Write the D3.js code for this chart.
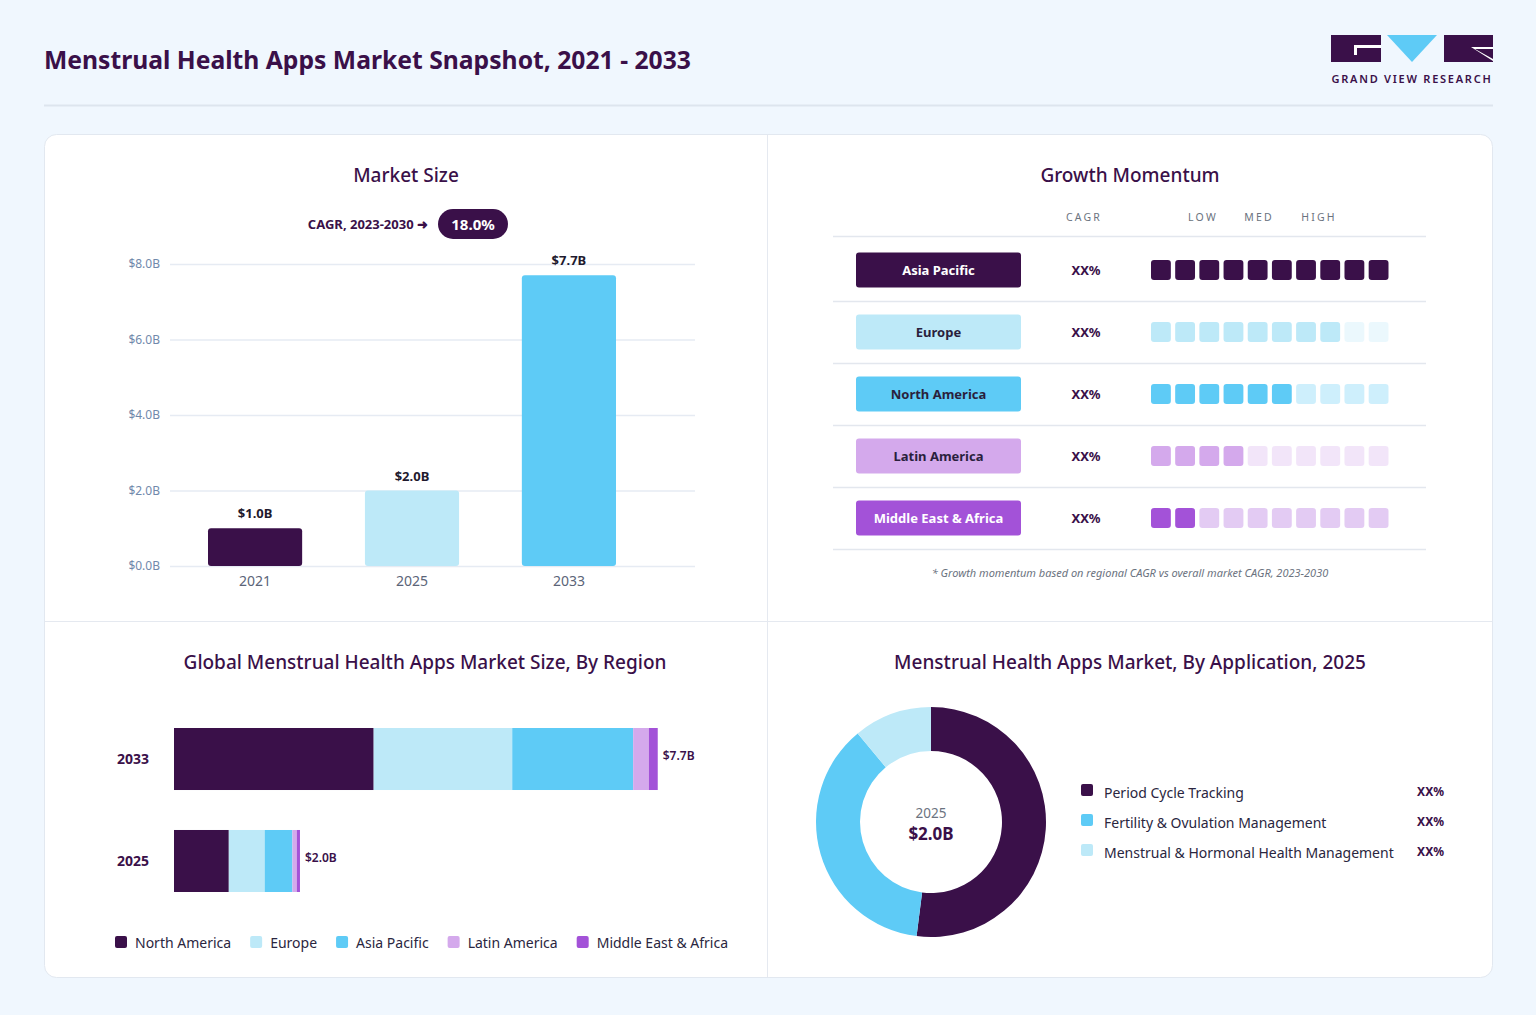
<!DOCTYPE html>
<html>
<head>
<meta charset="utf-8">
<script src="https://cdn.jsdelivr.net/npm/d3@7"></script>
<style>
  body { margin: 0; background: #f0f7fe; font-family: "Noto Sans", "Open Sans", sans-serif; }
  svg { display: block; }
</style>
</head>
<body>
<svg width="1536" height="1015"></svg>
<script>
const years = ['2021', '2025', '2033'];
const marketSize = [1.0, 2.0, 7.7];
const marketTicks = [0, 2, 4, 6, 8];

const regions = ['North America', 'Europe', 'Asia Pacific', 'Latin America', 'Middle East & Africa'];
const regionYears = ['2033', '2025'];
const regionValues2033 = [3.17, 2.2, 1.92, 0.25, 0.14];
const regionValues2025 = [0.87, 0.57, 0.44, 0.07, 0.05];
const regionTotals = ['$7.7B', '$2.0B'];

const momentumRegions = ['Asia Pacific', 'Europe', 'North America', 'Latin America', 'Middle East & Africa'];
const momentumScores = [10, 8, 6, 4, 2];
const momentumCagr = ['XX%', 'XX%', 'XX%', 'XX%', 'XX%'];

const applications = ['Period Cycle Tracking', 'Fertility & Ovulation Management', 'Menstrual & Hormonal Health Management'];
const applicationShares = [52, 37, 11];
const applicationLabels = ['XX%', 'XX%', 'XX%'];

const dark = '#3a1049';
const palette = [dark, '#bde9f8', '#5ecbf6', '#d4a9ec', '#a352d8'];
const regionColor = d3.scaleOrdinal().domain(regions).range(palette);
const momentumColor = d3.scaleOrdinal().domain(momentumRegions).range(palette);
const appColor = d3.scaleOrdinal().domain(applications).range([dark, '#5ecbf6', '#bde9f8']);
const lightBg = ['Europe', 'North America', 'Latin America'];

const svg = d3.select('svg');

// header
svg.append('text').attr('x', 44).attr('y', 69)
  .style('font-size', '24.7px').style('font-weight', 700).style('fill', dark)
  .text('Menstrual Health Apps Market Snapshot, 2021 - 2033');
svg.append('line').attr('x1', 44).attr('x2', 1493).attr('y1', 105.5).attr('y2', 105.5)
  .style('stroke', '#dde5ee').style('stroke-width', 2);

// logo
const logo = svg.append('g');
logo.append('rect').attr('x', 1331).attr('y', 35).attr('width', 50).attr('height', 27).style('fill', dark);
logo.append('path').attr('d', 'M1381,45L1354,45L1354,55L1357,55L1357,48L1381,48Z').style('fill', '#fff');
logo.append('path').attr('d', 'M1387,35L1437,35L1412,62Z').style('fill', '#5ecbf6');
logo.append('rect').attr('x', 1444).attr('y', 35).attr('width', 49).attr('height', 27).style('fill', dark);
logo.append('path').attr('d', 'M1493,59L1475,49L1493,49L1493,47L1471,47L1493,61Z').style('fill', '#fff');
logo.append('text').attr('x', 1412).attr('y', 83).attr('text-anchor', 'middle')
  .style('font-size', '11px').style('font-weight', 600).style('letter-spacing', '1.75px').style('fill', dark)
  .text('GRAND VIEW RESEARCH');

// card
svg.append('rect').attr('x', 44.5).attr('y', 134.5).attr('width', 1448).attr('height', 843).attr('rx', 12)
  .style('fill', '#fff').style('stroke', '#e2e8f0');
svg.append('line').attr('x1', 767.5).attr('x2', 767.5).attr('y1', 135).attr('y2', 977).style('stroke', '#e5e9f0');
svg.append('line').attr('x1', 45).attr('x2', 1492).attr('y1', 621.5).attr('y2', 621.5).style('stroke', '#e5e9f0');

function panelTitle(x, y, t) {
  svg.append('text').attr('x', x).attr('y', y).attr('text-anchor', 'middle')
    .style('font-size', '19px').style('font-weight', 500).style('fill', dark).text(t);
}

// ---- Market size
panelTitle(406, 182, 'Market Size');
svg.append('text').attr('x', 428).attr('y', 229).attr('text-anchor', 'end')
  .style('font-size', '13px').style('font-weight', 700).style('fill', dark).text('CAGR, 2023-2030 ➜');
svg.append('rect').attr('x', 438).attr('y', 209).attr('width', 70).attr('height', 30).attr('rx', 15).style('fill', dark);
svg.append('text').attr('x', 473).attr('y', 230).attr('text-anchor', 'middle')
  .style('font-size', '15px').style('font-weight', 700).style('fill', '#fff').text('18.0%');

const y = d3.scaleLinear().domain([0, 8]).range([566, 264]);
const x = d3.scaleBand().domain(years).range([208, 616]).paddingInner(0.4).paddingOuter(0);

const grid = svg.append('g');
grid.selectAll('line').data(marketTicks).enter().append('line')
  .attr('x1', 170).attr('x2', 695).attr('y1', d => y(d) + 0.5).attr('y2', d => y(d) + 0.5)
  .style('stroke', '#e6ebf3').style('stroke-width', 1.5);
grid.selectAll('text').data(marketTicks).enter().append('text')
  .attr('x', 160).attr('y', d => y(d) + 4).attr('text-anchor', 'end')
  .style('font-size', '12px').style('fill', '#7089ab').text(d => `$${d.toFixed(1)}B`);

const barColors = [dark, '#bde9f8', '#5ecbf6'];
svg.selectAll('rect.msbar').data(marketSize).enter().append('rect').attr('class', 'msbar')
  .attr('x', (d, i) => x(years[i])).attr('width', x.bandwidth())
  .attr('y', d => y(d)).attr('height', d => y(0) - y(d)).attr('rx', 3)
  .style('fill', (d, i) => barColors[i]);
svg.selectAll('text.msval').data(marketSize).enter().append('text').attr('class', 'msval')
  .attr('x', (d, i) => x(years[i]) + x.bandwidth() / 2).attr('y', d => y(d) - 10).attr('text-anchor', 'middle')
  .style('font-size', '13px').style('font-weight', 700).style('fill', '#1f1a2e').text(d => `$${d.toFixed(1)}B`);
svg.selectAll('text.msyear').data(years).enter().append('text').attr('class', 'msyear')
  .attr('x', d => x(d) + x.bandwidth() / 2).attr('y', 586).attr('text-anchor', 'middle')
  .style('font-size', '14px').style('fill', '#5b6478').text(d => d);

// ---- Growth momentum
panelTitle(1130, 182, 'Growth Momentum');
const hdr = [['CAGR', 1084], ['LOW', 1203], ['MED', 1259], ['HIGH', 1319]];
svg.selectAll('text.hdr').data(hdr).enter().append('text').attr('class', 'hdr')
  .attr('x', d => d[1]).attr('y', 221).attr('text-anchor', 'middle')
  .style('font-size', '10.5px').style('letter-spacing', '2.2px').style('fill', '#6b7380').text(d => d[0]);

const rowY = d3.scalePoint().domain(momentumRegions).range([270, 518]);
const seps = [236].concat(momentumRegions.map(r => rowY(r) + 31));
svg.selectAll('line.sep').data(seps).enter().append('line').attr('class', 'sep')
  .attr('x1', 833).attr('x2', 1426).attr('y1', d => d + 0.5).attr('y2', d => d + 0.5)
  .style('stroke', '#e3e7ee').style('stroke-width', 1.5);

const rows = svg.selectAll('g.mrow').data(momentumRegions).enter().append('g').attr('class', 'mrow')
  .attr('transform', d => `translate(0,${rowY(d)})`);
rows.append('rect').attr('x', 856).attr('y', -17.5).attr('width', 165).attr('height', 35).attr('rx', 3)
  .style('fill', d => momentumColor(d));
rows.append('text').attr('x', 938.5).attr('y', 5).attr('text-anchor', 'middle')
  .style('font-size', '13px').style('font-weight', 700)
  .style('fill', d => lightBg.includes(d) ? '#2a1f3d' : '#fff').text(d => d);
rows.append('text').attr('x', 1086).attr('y', 5).attr('text-anchor', 'middle')
  .style('font-size', '13px').style('font-weight', 700).style('fill', dark).text((d, i) => momentumCagr[i]);

const sq = d3.scaleBand().domain(d3.range(10)).range([1151, 1388.5]).paddingInner(0.18);
rows.each(function (r, ri) {
  d3.select(this).selectAll('rect.sq').data(d3.range(10)).enter().append('rect').attr('class', 'sq')
    .attr('x', k => sq(k)).attr('y', -10).attr('width', sq.bandwidth()).attr('height', 20).attr('rx', 3)
    .style('fill', momentumColor(r))
    .style('fill-opacity', k => k < momentumScores[ri] ? 1 : 0.3);
});
svg.append('text').attr('x', 1130).attr('y', 577).attr('text-anchor', 'middle')
  .style('font-size', '11px').style('font-style', 'italic').style('fill', '#6b7380')
  .text('* Growth momentum based on regional CAGR vs overall market CAGR, 2023-2030');

// ---- By region stacked bars
panelTitle(425, 669, 'Global Menstrual Health Apps Market Size, By Region');
const hx = d3.scaleLinear().domain([0, 7.7]).range([174, 659]);
const hy = d3.scaleBand().domain(regionYears).range([728, 892]).paddingInner(0.392).paddingOuter(0);
const stackRows = regionYears.map((yr, i) => {
  const vals = i === 0 ? regionValues2033 : regionValues2025;
  const o = { year: yr };
  regions.forEach((r, k) => { o[r] = vals[k]; });
  return o;
});
const stacked = d3.stack().keys(regions)(stackRows);
svg.append('g').selectAll('g').data(stacked).enter().append('g')
  .style('fill', d => regionColor(d.key))
  .selectAll('rect').data(d => d).enter().append('rect')
  .attr('x', d => hx(d[0])).attr('width', d => hx(d[1]) - hx(d[0]))
  .attr('y', d => hy(d.data.year)).attr('height', hy.bandwidth());
svg.selectAll('text.ryear').data(regionYears).enter().append('text').attr('class', 'ryear')
  .attr('x', 117).attr('y', d => hy(d) + hy.bandwidth() / 2 + 5)
  .style('font-size', '14px').style('font-weight', 700).style('fill', dark).text(d => d);
svg.selectAll('text.rtot').data(stackRows).enter().append('text').attr('class', 'rtot')
  .attr('x', (d, i) => hx(d3.sum(i === 0 ? regionValues2033 : regionValues2025)) + 5)
  .attr('y', d => hy(d.year) + hy.bandwidth() / 2 + 1)
  .style('font-size', '12px').style('font-weight', 600).style('fill', dark)
  .text((d, i) => regionTotals[i]);

const leg = svg.append('g');
let lx = 115;
regions.forEach(r => {
  leg.append('rect').attr('x', lx).attr('y', 936).attr('width', 12).attr('height', 12).attr('rx', 2).style('fill', regionColor(r));
  const t = leg.append('text').attr('x', lx + 20).attr('y', 947.5)
    .style('font-size', '14px').style('fill', '#2a2640').text(r);
  lx += 20 + t.node().getComputedTextLength() + 19;
});

// ---- Donut
panelTitle(1130, 669, 'Menstrual Health Apps Market, By Application, 2025');
const pie = d3.pie().sort(null).value(d => d)(applicationShares);
const arc = d3.arc().innerRadius(71).outerRadius(115);
const donut = svg.append('g').attr('transform', 'translate(931,822)');
donut.selectAll('path').data(pie).enter().append('path')
  .attr('d', arc).style('fill', (d, i) => appColor(applications[i]));
donut.append('text').attr('y', -4).attr('text-anchor', 'middle')
  .style('font-size', '13.5px').style('fill', '#6b7380').text('2025');
donut.append('text').attr('y', 18).attr('text-anchor', 'middle')
  .style('font-size', '17px').style('font-weight', 700).style('fill', dark).text('$2.0B');

const ly = d3.scalePoint().domain(applications).range([791, 851]);
const al = svg.selectAll('g.aleg').data(applications).enter().append('g').attr('class', 'aleg')
  .attr('transform', d => `translate(0,${ly(d)})`);
al.append('rect').attr('x', 1081).attr('y', -7).attr('width', 12).attr('height', 12).attr('rx', 2)
  .style('fill', d => appColor(d));
al.append('text').attr('x', 1104).attr('y', 7).style('font-size', '14px').style('fill', '#2a2640').text(d => d);
al.append('text').attr('x', 1444).attr('y', 5).attr('text-anchor', 'end')
  .style('font-size', '12px').style('font-weight', 700).style('fill', dark).text((d, i) => applicationLabels[i]);
</script>
</body>
</html>
